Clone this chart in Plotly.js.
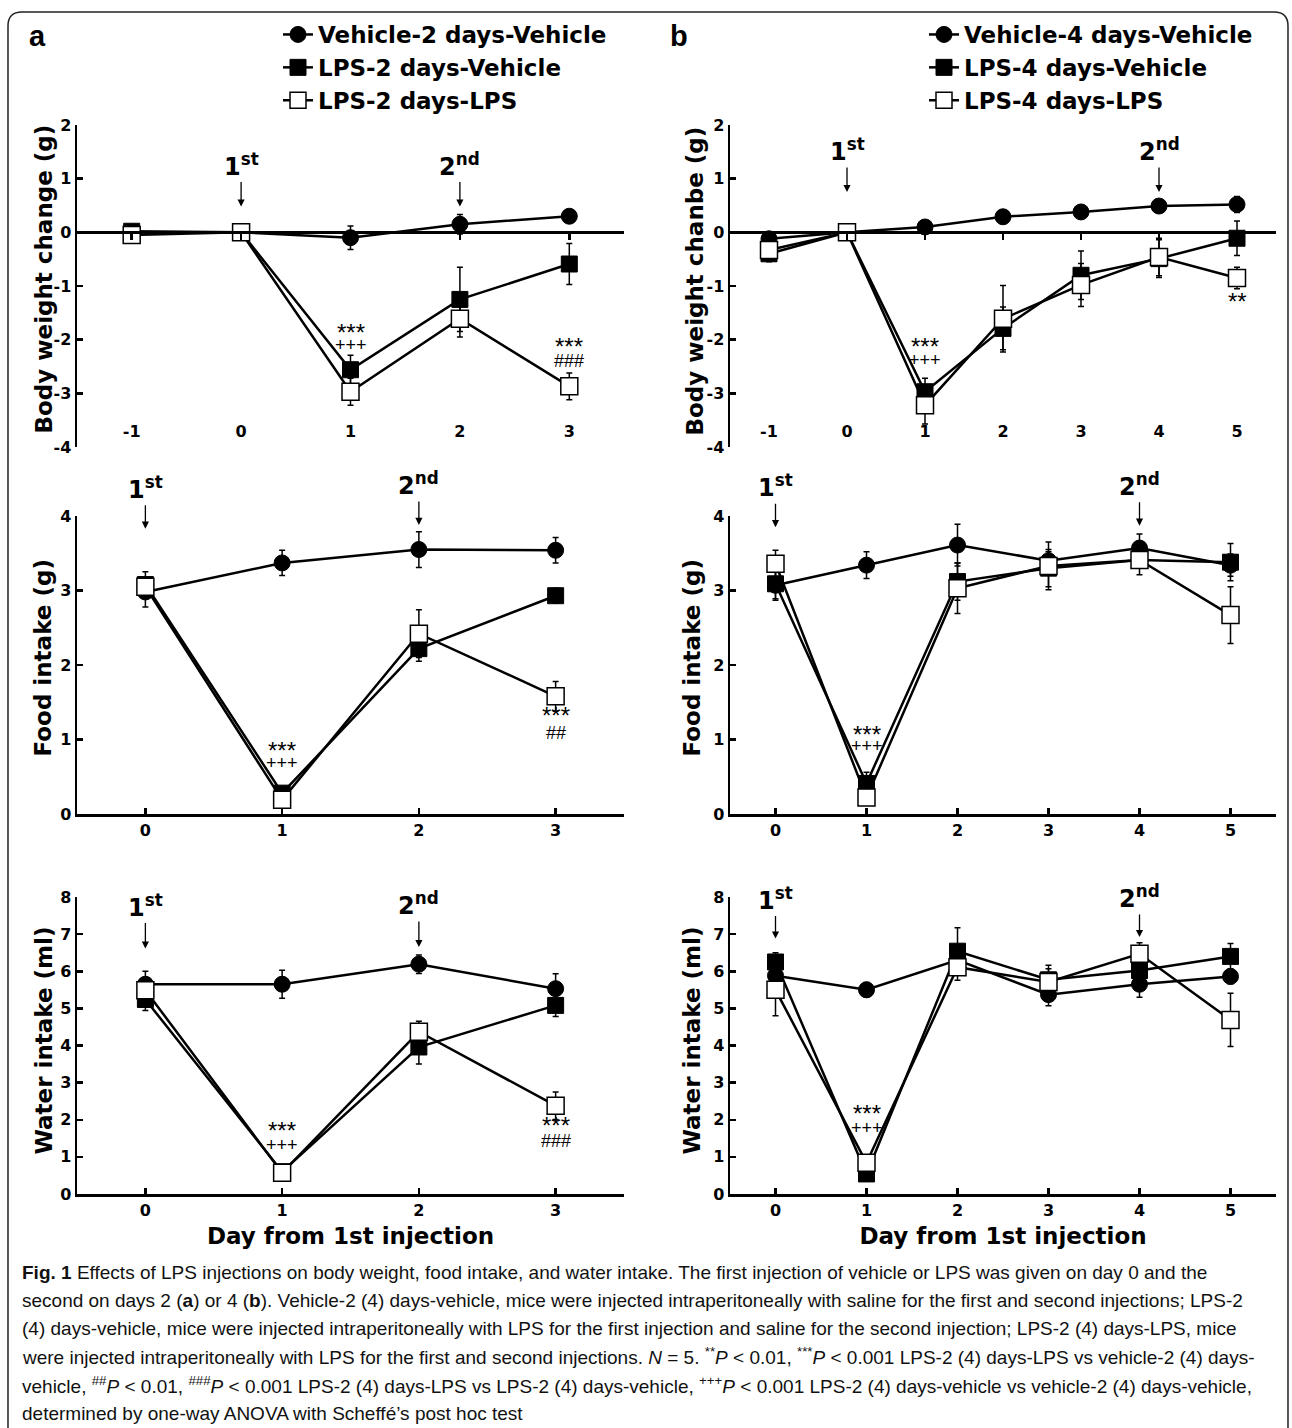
<!DOCTYPE html>
<html><head><meta charset="utf-8">
<script src="https://cdn.plot.ly/plotly-3.0.1.min.js"></script>
<style>html,body{margin:0;padding:0;background:#fff}</style>
</head><body><div id="chart" style="width:1292px;height:1428px"></div>
<script>
// ---------------- data ----------------
const daysBWa = [-1, 0, 1, 2, 3];
const daysBWb = [-1, 0, 1, 2, 3, 4, 5];
const daysIntakeA = [0, 1, 2, 3];
const daysIntakeB = [0, 1, 2, 3, 4, 5];
const tickTextBWa = ['-1', '0', '1', '2', '3'];
const tickTextBWb = ['-1', '0', '1', '2', '3', '4', '5'];
const tickTextBWy = ['-4', '-3', '-2', '-1', '0', '1', '2'];
const tickValsBWy = [-4, -3, -2, -1, 0, 1, 2];

const namesA = ['Vehicle-2 days-Vehicle', 'LPS-2 days-Vehicle', 'LPS-2 days-LPS'];
const namesB = ['Vehicle-4 days-Vehicle', 'LPS-4 days-Vehicle', 'LPS-4 days-LPS'];
const yTitlesA = ['Body weight change (g)', 'Food intake (g)', 'Water intake (ml)'];
const yTitlesB = ['Body weight chanbe (g)', 'Food intake (g)', 'Water intake (ml)'];
const xTitle = 'Day from 1st injection';

// Body weight change (g), panel a
const bwA_veh       = [0.00, 0, -0.10, 0.15, 0.30];
const bwA_vehErr    = [0.05, 0, 0.22, 0.18, 0.08];
const bwA_lpsVeh    = [0.02, 0, -2.56, -1.25, -0.59];
const bwA_lpsVehErr = [0.05, 0, 0.27, 0.60, 0.38];
const bwA_lpsLps    = [-0.05, 0, -2.97, -1.61, -2.87];
const bwA_lpsLpsErr = [0.08, 0, 0.25, 0.34, 0.25];
// Body weight change (g), panel b
const bwB_veh       = [-0.12, 0, 0.10, 0.29, 0.38, 0.49, 0.52];
const bwB_vehErr    = [0.05, 0, 0.05, 0.05, 0.05, 0.05, 0.15];
const bwB_lpsVeh    = [-0.40, 0, -2.97, -1.79, -0.80, -0.49, -0.11];
const bwB_lpsVehErr = [0.15, 0, 0.25, 0.40, 0.45, 0.35, 0.32];
const bwB_lpsLps    = [-0.33, 0, -3.22, -1.61, -0.98, -0.46, -0.85];
const bwB_lpsLpsErr = [0.20, 0, 0.35, 0.62, 0.40, 0.35, 0.20];
// Food intake (g), panel a
const fiA_veh       = [2.98, 3.37, 3.55, 3.54];
const fiA_vehErr    = [0.20, 0.17, 0.24, 0.17];
const fiA_lpsVeh    = [3.08, 0.28, 2.22, 2.93];
const fiA_lpsVehErr = [0.17, 0.05, 0.17, 0.10];
const fiA_lpsLps    = [3.05, 0.19, 2.42, 1.58];
const fiA_lpsLpsErr = [0.10, 0.05, 0.32, 0.20];
// Food intake (g), panel b
const fiB_veh       = [3.07, 3.34, 3.61, 3.40, 3.57, 3.34];
const fiB_vehErr    = [0.20, 0.18, 0.28, 0.12, 0.19, 0.15];
const fiB_lpsVeh    = [3.09, 0.41, 3.12, 3.30, 3.41, 3.38];
const fiB_lpsVehErr = [0.20, 0.15, 0.25, 0.25, 0.10, 0.25];
const fiB_lpsLps    = [3.36, 0.22, 3.03, 3.33, 3.41, 2.67];
const fiB_lpsLpsErr = [0.18, 0.10, 0.34, 0.32, 0.20, 0.38];
// Water intake (ml), panel a
const wiA_veh       = [5.65, 5.65, 6.19, 5.53];
const wiA_vehErr    = [0.35, 0.38, 0.25, 0.40];
const wiA_lpsVeh    = [5.24, 0.60, 3.96, 5.08];
const wiA_lpsVehErr = [0.30, 0.10, 0.46, 0.30];
const wiA_lpsLps    = [5.49, 0.57, 4.37, 2.38];
const wiA_lpsLpsErr = [0.30, 0.10, 0.28, 0.37];
// Water intake (ml), panel b
const wiB_veh       = [5.88, 5.50, 6.30, 5.37, 5.65, 5.86];
const wiB_vehErr    = [0.20, 0.20, 0.30, 0.30, 0.35, 0.20];
const wiB_lpsVeh    = [6.25, 0.54, 6.54, 5.77, 6.02, 6.40];
const wiB_lpsVehErr = [0.25, 0.10, 0.63, 0.30, 0.30, 0.35];
const wiB_lpsLps    = [5.50, 0.84, 6.11, 5.71, 6.47, 4.69];
const wiB_lpsLpsErr = [0.70, 0.10, 0.35, 0.45, 0.30, 0.72];

// injection days and significance marks
const injDaysA = [0, 2];
const injDaysB = [0, 4];
const injLabels = ['1<sup>st</sup>', '2<sup>nd</sup>'];
const sigBWa = [['***', 1, -1.88], ['+++', 1, -2.04], ['***', 3, -2.15], ['###', 3, -2.35]];
const sigBWb = [['***', 1, -2.14], ['+++', 1, -2.32], ['**', 5, -1.30]];
const sigFIa = [['***', 1, 0.84], ['+++', 1, 0.72], ['***', 3, 1.31], ['##', 3, 1.13]];
const sigFIb = [['***', 1, 1.06], ['+++', 1, 0.95]];
const sigWIa = [['***', 1, 1.68], ['+++', 1, 1.41], ['***', 3, 1.83], ['###', 3, 1.52]];
const sigWIb = [['***', 1, 2.14], ['+++', 1, 1.87]];

const captionLines = [
  '<b>Fig. 1</b> Effects of LPS injections on body weight, food intake, and water intake. The first injection of vehicle or LPS was given on day 0 and the',
  'second on days 2 (<b>a</b>) or 4 (<b>b</b>). Vehicle-2 (4) days-vehicle, mice were injected intraperitoneally with saline for the first and second injections; LPS-2',
  '(4) days-vehicle, mice were injected intraperitoneally with LPS for the first injection and saline for the second injection; LPS-2 (4) days-LPS, mice',
  'were injected intraperitoneally with LPS for the first and second injections. <i>N</i> = 5. <sup>**</sup><i>P</i> &lt; 0.01, <sup>***</sup><i>P</i> &lt; 0.001 LPS-2 (4) days-LPS vs vehicle-2 (4) days-',
  'vehicle, <sup>##</sup><i>P</i> &lt; 0.01, <sup>###</sup><i>P</i> &lt; 0.001 LPS-2 (4) days-LPS vs LPS-2 (4) days-vehicle, <sup>+++</sup><i>P</i> &lt; 0.001 LPS-2 (4) days-vehicle vs vehicle-2 (4) days-vehicle,',
  'determined by one-way ANOVA with Scheffé’s post hoc test'
];

// ---------------- layout helpers ----------------
const W = 1292, H = 1428;
const FONT = '"DejaVu Sans", Verdana, sans-serif';
const ARIAL = '"Liberation Sans", Arial, Helvetica, sans-serif';
const dx = (a, b) => [a / W, b / W];
const dy = (top, bot) => [1 - bot / H, 1 - top / H];
const px2paperY = p => 1 - p / H;

const domA = dx(77, 624), domB = dx(730, 1276);
const domBW = dy(125, 447), domFI = dy(516, 814), domWI = dy(897, 1194);
const rBW = [-4, 2];
const zeroPos = domBW[0] + (0 - rBW[0]) / (rBW[1] - rBW[0]) * (domBW[1] - domBW[0]);

const MARKERS = [
  {symbol: 'circle', size: 16, color: '#000', line: {color: '#000', width: 1}},
  {symbol: 'square', size: 16, color: '#000', line: {color: '#000', width: 1}},
  {symbol: 'square', size: 17, color: '#fff', line: {color: '#000', width: 1.5}}
];

const charts = [
  {xa: 'x', ya: 'y', days: daysBWa, means: [bwA_veh, bwA_lpsVeh, bwA_lpsLps], errs: [bwA_vehErr, bwA_lpsVehErr, bwA_lpsLpsErr], names: namesA, legend: 'legend', show: true},
  {xa: 'x2', ya: 'y2', days: daysBWb, means: [bwB_veh, bwB_lpsVeh, bwB_lpsLps], errs: [bwB_vehErr, bwB_lpsVehErr, bwB_lpsLpsErr], names: namesB, legend: 'legend2', show: true},
  {xa: 'x3', ya: 'y3', days: daysIntakeA, means: [fiA_veh, fiA_lpsVeh, fiA_lpsLps], errs: [fiA_vehErr, fiA_lpsVehErr, fiA_lpsLpsErr], names: namesA, legend: 'legend', show: false},
  {xa: 'x4', ya: 'y4', days: daysIntakeB, means: [fiB_veh, fiB_lpsVeh, fiB_lpsLps], errs: [fiB_vehErr, fiB_lpsVehErr, fiB_lpsLpsErr], names: namesB, legend: 'legend2', show: false},
  {xa: 'x5', ya: 'y5', days: daysIntakeA, means: [wiA_veh, wiA_lpsVeh, wiA_lpsLps], errs: [wiA_vehErr, wiA_lpsVehErr, wiA_lpsLpsErr], names: namesA, legend: 'legend', show: false},
  {xa: 'x6', ya: 'y6', days: daysIntakeB, means: [wiB_veh, wiB_lpsVeh, wiB_lpsLps], errs: [wiB_vehErr, wiB_lpsVehErr, wiB_lpsLpsErr], names: namesB, legend: 'legend2', show: false}
];

const traces = [];
charts.forEach(c => {
  c.means.forEach((m, i) => {
    traces.push({
      type: 'scatter', mode: 'lines+markers', x: c.days, y: m,
      xaxis: c.xa, yaxis: c.ya, name: c.names[i], legend: c.legend, showlegend: c.show,
      line: {color: '#000', width: 2.5}, marker: MARKERS[i], cliponaxis: false,
      error_y: {type: 'data', array: c.errs[i], visible: true, color: '#000', thickness: 1.5, width: 3}
    });
  });
});

const tickFont = {family: FONT, size: 16, color: '#000', weight: 'bold'};
const titleFont = {family: FONT, size: 23, color: '#000', weight: 'bold'};
const baseAx = {showline: true, linecolor: '#000', linewidth: 2.5, ticks: 'inside', ticklen: 6, tickwidth: 2.5,
  tickcolor: '#000', showgrid: false, zeroline: false, tickfont: tickFont, fixedrange: true};
const yAx = (dom, range, anchor, vals, txt) => Object.assign({}, baseAx, {
  domain: dom, range: range, anchor: anchor, tickvals: vals, ticktext: txt});
const intTicks = n => Array.from({length: n + 1}, (_, k) => k);

const layout = {
  width: W, height: H, margin: {l: 0, r: 0, t: 0, b: 0},
  paper_bgcolor: '#fff', plot_bgcolor: 'rgba(0,0,0,0)', showlegend: true,
  // body weight: x axis drawn through y = 0, labels pushed to the bottom of the frame
  xaxis: Object.assign({}, baseAx, {domain: domA, range: [-1.5, 3.5], anchor: 'free', position: zeroPos,
    ticks: 'outside', tickvals: daysBWa, ticktext: tickTextBWa, ticklabelstandoff: 178}),
  yaxis: yAx(domBW, rBW, 'x', tickValsBWy, tickTextBWy),
  xaxis2: Object.assign({}, baseAx, {domain: domB, range: [-1.5, 5.5], anchor: 'free', position: zeroPos,
    ticks: 'outside', tickvals: daysBWb, ticktext: tickTextBWb, ticklabelstandoff: 178}),
  yaxis2: yAx(domBW, rBW, 'x2', tickValsBWy, tickTextBWy),
  // food
  xaxis3: Object.assign({}, baseAx, {domain: domA, range: [-0.5, 3.5], anchor: 'y3', tickvals: daysIntakeA}),
  yaxis3: yAx(domFI, [0, 4], 'x3', intTicks(4), intTicks(4).map(String)),
  xaxis4: Object.assign({}, baseAx, {domain: domB, range: [-0.5, 5.5], anchor: 'y4', tickvals: daysIntakeB}),
  yaxis4: yAx(domFI, [0, 4], 'x4', intTicks(4), intTicks(4).map(String)),
  // water
  xaxis5: Object.assign({}, baseAx, {domain: domA, range: [-0.5, 3.5], anchor: 'y5', tickvals: daysIntakeA,
    title: {text: xTitle, font: titleFont, standoff: 9}}),
  yaxis5: yAx(domWI, [0, 8], 'x5', intTicks(8), intTicks(8).map(String)),
  xaxis6: Object.assign({}, baseAx, {domain: domB, range: [-0.5, 5.5], anchor: 'y6', tickvals: daysIntakeB,
    title: {text: xTitle, font: titleFont, standoff: 9}}),
  yaxis6: yAx(domWI, [0, 8], 'x6', intTicks(8), intTicks(8).map(String)),
  legend: {x: 278 / W, y: px2paperY(13), xanchor: 'left', yanchor: 'top', bgcolor: 'rgba(0,0,0,0)',
    font: {family: FONT, size: 23, color: '#000', weight: 'bold'}, itemwidth: 30, tracegroupgap: 0},
  legend2: {x: 924 / W, y: px2paperY(13), xanchor: 'left', yanchor: 'top', bgcolor: 'rgba(0,0,0,0)',
    font: {family: FONT, size: 23, color: '#000', weight: 'bold'}, itemwidth: 30, tracegroupgap: 0},
  annotations: [],
  shapes: []
};

// panel letters
[['a', 37], ['b', 679]].forEach(([t, x]) => layout.annotations.push({
  text: t, xref: 'paper', yref: 'paper', x: x / W, y: px2paperY(36), showarrow: false,
  xanchor: 'center', yanchor: 'middle', font: {family: ARIAL, size: 29, color: '#000', weight: 'bold'}}));

// y-axis titles (rotated), centred beside each axis
const yTitlePos = [[43.5, 279, 0], [694.5, 281, 1], [42.5, 658, 0], [691.5, 658, 1], [43.5, 1041, 0], [691.5, 1041, 1]];
yTitlePos.forEach(([x, y, side], k) => layout.annotations.push({
  text: (side ? yTitlesB : yTitlesA)[Math.floor(k / 2)], xref: 'paper', yref: 'paper', x: x / W, y: px2paperY(y),
  textangle: -90, showarrow: false, xanchor: 'center', yanchor: 'middle', font: titleFont}));

// injection arrows (tip positions in data units)
const injSpecs = [
  {xa: 'x', ya: 'y', days: injDaysA, tips: [0.48, 0.48], ay: -42},
  {xa: 'x2', ya: 'y2', days: injDaysB, tips: [0.75, 0.75], ay: -42},
  {xa: 'x3', ya: 'y3', days: injDaysA, tips: [3.83, 3.88], ay: -41},
  {xa: 'x4', ya: 'y4', days: injDaysB, tips: [3.85, 3.87], ay: -41},
  {xa: 'x5', ya: 'y5', days: injDaysA, tips: [6.61, 6.65], ay: -43},
  {xa: 'x6', ya: 'y6', days: injDaysB, tips: [6.88, 6.92], ay: -40}
];
injSpecs.forEach(s => s.days.forEach((d, k) => layout.annotations.push({
  text: injLabels[k], x: d, y: s.tips[k], xref: s.xa, yref: s.ya, showarrow: true, ax: 0, ay: s.ay,
  arrowhead: 2, arrowsize: 1.1, arrowwidth: 1.3, arrowcolor: '#000',
  font: {family: FONT, size: 24, color: '#000', weight: 'bold'}})));

// significance marks
[[sigBWa, 'x', 'y'], [sigBWb, 'x2', 'y2'], [sigFIa, 'x3', 'y3'], [sigFIb, 'x4', 'y4'],
 [sigWIa, 'x5', 'y5'], [sigWIb, 'x6', 'y6']].forEach(([list, xa, ya]) => list.forEach(([t, d, v]) => {
  const star = t.indexOf('*') >= 0;
  layout.annotations.push({text: t, x: d, y: v, xref: xa, yref: ya, showarrow: false,
    yshift: star ? 1 : -3, font: {family: ARIAL, size: star ? 24 : 18, color: '#000'}});
}));

// caption
const capY = [1272, 1300, 1328, 1356, 1385, 1413];
captionLines.forEach((t, k) => layout.annotations.push({
  text: t, xref: 'paper', yref: 'paper', x: 20 / W, y: px2paperY(capY[k]), xanchor: 'left', yanchor: 'middle',
  showarrow: false, font: {family: ARIAL, size: 19, color: '#111'}}));

// rounded figure frame
const P = (x, y) => (x / W).toFixed(5) + ',' + (1 - y / H).toFixed(5);
layout.shapes.push({type: 'path', xref: 'paper', yref: 'paper', layer: 'below',
  path: `M ${P(8, 1440)} L ${P(8, 26)} Q ${P(8, 12)} ${P(22, 12)} L ${P(1274, 12)} Q ${P(1288, 12)} ${P(1288, 26)} L ${P(1288, 1440)}`,
  line: {color: '#222', width: 1.5}});

Plotly.newPlot('chart', traces, layout, {staticPlot: true, displayModeBar: false});
</script></body></html>
